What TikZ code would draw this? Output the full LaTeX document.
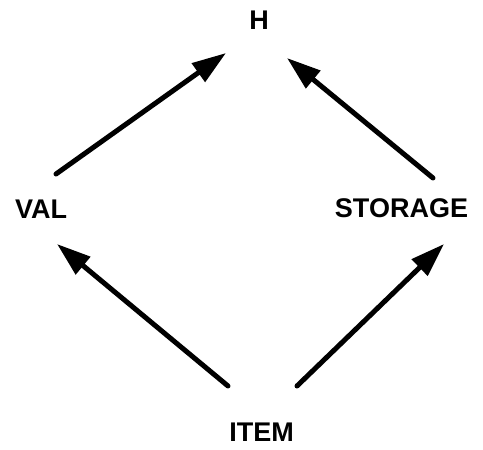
\documentclass[tikz,border=0pt]{standalone}
\usepackage{fontspec}
\setmainfont{Liberation Sans}
\usetikzlibrary{arrows.meta}
\begin{document}
\begin{tikzpicture}[x=1pt,y=-1pt,
  lbl/.style={font=\bfseries\fontsize{27}{32}\selectfont, inner sep=0pt},
  link/.style={line width=5pt, line cap=round,
    -{Triangle[length=34pt,width=22pt]}}]
\useasboundingbox (0,0) rectangle (483,450);
% labels
\node[lbl] (h) at (259,20) {H};
\node[lbl] (val) at (41,209.5) {VAL};
\node[lbl] (storage) at (401.5,208.5) {STORAGE};
\node[lbl] (item) at (261.5,432) {ITEM};
% arrow ends
\coordinate (valout) at (56,174);
\coordinate (hinl) at (226,53);
\coordinate (stout) at (433,178);
\coordinate (hinr) at (287,58);
\coordinate (itoutl) at (228,386);
\coordinate (valin) at (57,244);
\coordinate (itoutr) at (297,386);
\coordinate (stin) at (444,244);
% arrows
\draw[link] (valout) -- (hinl);
\draw[link] (stout) -- (hinr);
\draw[link] (itoutl) -- (valin);
\draw[link] (itoutr) -- (stin);
\end{tikzpicture}
\end{document}
